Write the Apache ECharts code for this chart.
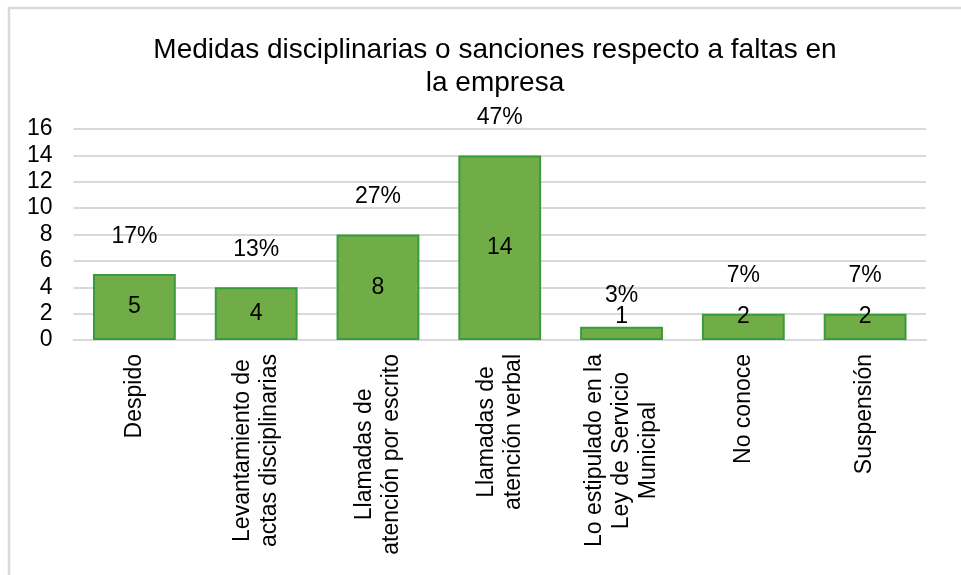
<!DOCTYPE html>
<html>
<head>
<meta charset="utf-8">
<script src="https://cdn.jsdelivr.net/npm/echarts@6/dist/echarts.min.js"></script>
<style>html,body{margin:0;padding:0;background:#fff;}#c{width:961px;height:575px;}</style>
</head>
<body>
<div id="c"></div>
<script>
const titleText = 'Medidas disciplinarias o sanciones respecto a faltas en\nla empresa';
const categories = [
  'Despido',
  'Levantamiento de\nactas disciplinarias',
  'Llamadas de\natención por escrito',
  'Llamadas de\natención verbal',
  'Lo estipulado en la\nLey de Servicio\nMunicipal',
  'No conoce',
  'Suspensión'
];
const counts = [5, 4, 8, 14, 1, 2, 2];
const percents = ['17%', '13%', '27%', '47%', '3%', '7%', '7%'];
const yTicks = [0, 2, 4, 6, 8, 10, 12, 14, 16];

const FONT = '"Liberation Sans", Arial, sans-serif';
const chart = echarts.init(document.getElementById('c'), null, {renderer: 'canvas'});

const countData = counts.map(v => v < 3
  ? {value: v, label: {position: 'insideBottom', distance: 12}}
  : v);
const pctData = counts.map((v, i) => i === 4
  ? {value: v, label: {distance: 20}}
  : v);

chart.setOption({
  animation: false,
  backgroundColor: '#fff',
  graphic: [{
    type: 'rect', silent: true, z: -10,
    shape: {x: 9, y: 8, width: 1000, height: 1000},
    style: {fill: 'none', stroke: '#d9d9d9', lineWidth: 2.5}
  }],
  title: {
    text: titleText,
    left: 490, top: 29, textAlign: 'center',
    textStyle: {fontFamily: FONT, fontSize: 28, fontWeight: 'normal', color: '#000', lineHeight: 33}
  },
  grid: {left: 73.5, right: 35, top: 129, bottom: 235, containLabel: false},
  xAxis: {
    type: 'category',
    data: categories,
    axisLine: {show: true, lineStyle: {color: '#d9d9d9', width: 2}},
    axisTick: {show: false},
    axisLabel: {
      rotate: 90, margin: 14, interval: 0, color: '#000',
      fontFamily: FONT, fontSize: 23, lineHeight: 27,
      formatter: s => s.split('\n').map(l => '{c|' + l + '}').join('\n'),
      rich: {c: {align: 'center', fontFamily: FONT, fontSize: 23, lineHeight: 27, color: '#000'}}
    }
  },
  yAxis: {
    type: 'value', min: 0, max: 16, interval: 2,
    axisLine: {show: false}, axisTick: {show: false},
    axisLabel: {
      margin: 21, color: '#000', fontFamily: FONT, fontSize: 23,
      formatter: v => yTicks.includes(v) ? String(v) : ''
    },
    splitLine: {lineStyle: {color: '#d9d9d9', width: 2}}
  },
  series: [{
    type: 'bar',
    data: countData,
    barCategoryGap: '32%',
    barGap: '-100%',
    itemStyle: {color: '#70ad47', borderColor: '#3a9a3f', borderWidth: 2},
    label: {show: true, position: 'inside', color: '#000', fontFamily: FONT, fontSize: 23}
  }, {
    type: 'bar',
    data: pctData,
    barCategoryGap: '32%',
    barGap: '-100%',
    silent: true,
    itemStyle: {color: 'rgba(0,0,0,0)'},
    label: {
      show: true, position: 'top', distance: 26, color: '#000', fontFamily: FONT, fontSize: 23,
      formatter: p => percents[p.dataIndex]
    }
  }]
});
</script>
</body>
</html>
